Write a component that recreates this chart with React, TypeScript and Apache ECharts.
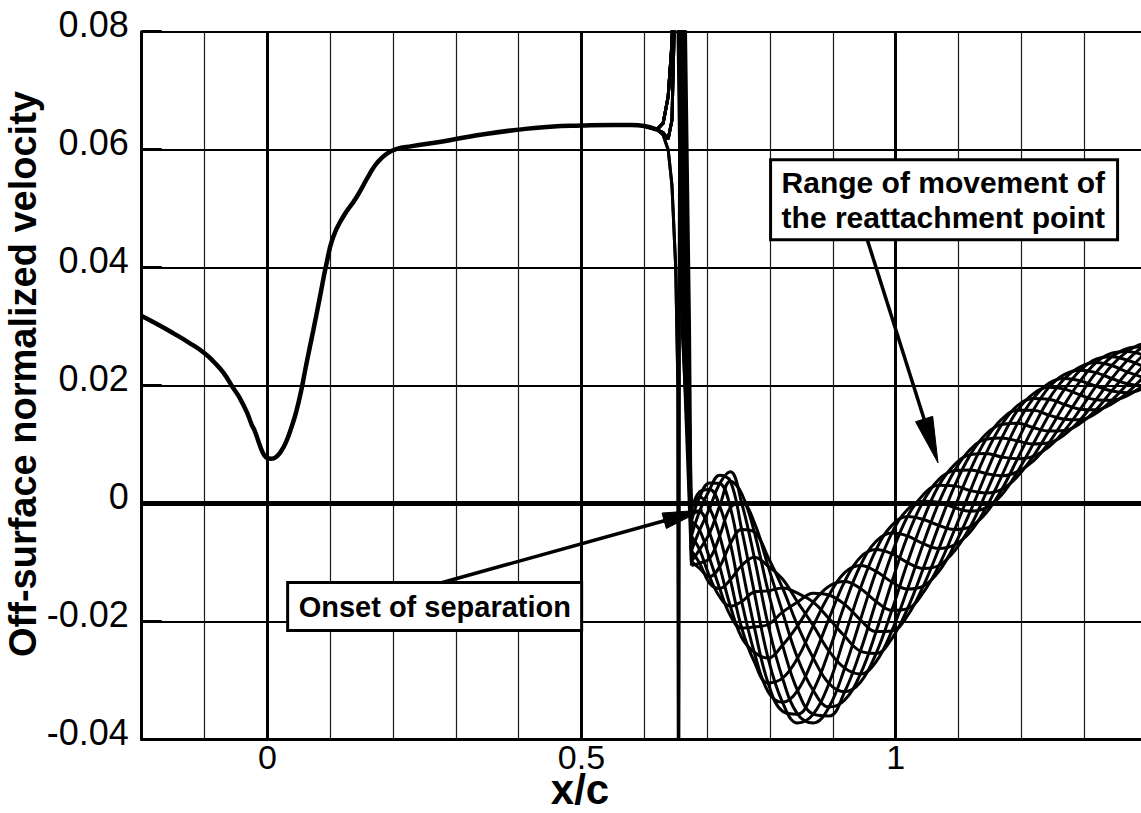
import React, { useEffect, useRef } from "react";
import * as echarts from "echarts";

// ---------- axis ticks ----------
const xLabelValues = [0, 0.5, 1];

// ---------- upstream curve (all phases coincide) ----------
const mainX = [-0.2, -0.175, -0.15, -0.125, -0.1, -0.085, -0.07, -0.055, -0.044, -0.033, -0.025, -0.02, -0.01, -0.005, 0.0, 0.006, 0.014, 0.022, 0.03, 0.038, 0.046, 0.054, 0.062, 0.073, 0.084, 0.094, 0.1045, 0.12, 0.1417, 0.163, 0.175, 0.19, 0.205, 0.23, 0.274, 0.3, 0.35, 0.4, 0.45, 0.5, 0.55, 0.58, 0.6, 0.62];
const mainY = [0.0318, 0.0304, 0.0289, 0.0273, 0.0255, 0.0240, 0.0222, 0.0197, 0.0179, 0.0156, 0.0134, 0.0123, 0.0093, 0.0082, 0.0077, 0.0076, 0.0079, 0.0089, 0.0105, 0.0128, 0.0156, 0.0192, 0.0236, 0.0293, 0.0352, 0.0406, 0.0451, 0.0485, 0.0519, 0.0559, 0.0578, 0.0593, 0.0601, 0.0606, 0.0613, 0.0618, 0.0627, 0.0634, 0.0639, 0.0641, 0.0642, 0.0642, 0.0640, 0.0634];

// ---------- approach to the shock spike ----------
const approachUp = [[0.600, 0.0640], [0.620, 0.0634], [0.630, 0.0645], [0.638, 0.0690], [0.644, 0.0780], [0.648, 0.0950], [0.651, 0.1200]];
const approachFlat = [[0.600, 0.0640], [0.620, 0.0634], [0.630, 0.0629], [0.638, 0.0618], [0.644, 0.0650], [0.6475, 0.0800], [0.651, 0.1200]];
const approachDip = [[0.600, 0.0640], [0.620, 0.0634], [0.630, 0.0625], [0.638, 0.0600], [0.644, 0.0540], [0.650, 0.0400], [0.6535, 0.0200], [0.6545, -0.0600], [0.6555, 0.0200], [0.657, 0.1200]];
const approachKind = ["up", "flat", "up", "dip", "flat", "up", "dip", "up", "flat", "up", "flat", "up"];
const spikeTopX = [0.653, 0.655, 0.657, 0.659, 0.661, 0.665, 0.663, 0.654, 0.656, 0.658, 0.660, 0.662];
const spikeMidX = [0.660, 0.662, 0.664, 0.666, 0.668, 0.672, 0.670, 0.661, 0.663, 0.665, 0.667, 0.669];

// ---------- separated region, one curve per phase ----------
const familyX = [0.675, 0.688, 0.704, 0.720, 0.737, 0.755, 0.775, 0.797, 0.820, 0.844, 0.869, 0.894, 0.919, 0.944, 0.969, 0.994, 1.019, 1.044, 1.069, 1.094, 1.119, 1.144, 1.169, 1.194, 1.219, 1.244, 1.269, 1.294, 1.319, 1.344, 1.369, 1.394, 1.419];
const phase0 = [-0.0005, 0.0011, -0.0008, -0.0055, -0.0129, -0.0211, -0.0268, -0.0304, -0.0296, -0.0262, -0.0207, -0.0155, -0.0117, -0.0105, -0.0115, -0.0133, -0.0145, -0.0140, -0.0115, -0.0070, -0.0013, 0.0051, 0.0111, 0.0158, 0.0186, 0.0197, 0.0194, 0.0184, 0.0176, 0.0175, 0.0183, 0.0200, 0.0223];
const phase1 = [-0.0012, -0.0013, -0.0050, -0.0107, -0.0174, -0.0227, -0.0252, -0.0262, -0.0240, -0.0207, -0.0167, -0.0140, -0.0132, -0.0144, -0.0166, -0.0181, -0.0178, -0.0151, -0.0105, -0.0044, 0.0022, 0.0085, 0.0134, 0.0166, 0.0178, 0.0177, 0.0168, 0.0160, 0.0159, 0.0169, 0.0188, 0.0214, 0.0241];
const phase2 = [-0.0030, -0.0045, -0.0093, -0.0144, -0.0190, -0.0211, -0.0209, -0.0205, -0.0184, -0.0167, -0.0152, -0.0155, -0.0171, -0.0197, -0.0217, -0.0216, -0.0190, -0.0140, -0.0076, -0.0007, 0.0057, 0.0109, 0.0143, 0.0158, 0.0158, 0.0150, 0.0143, 0.0142, 0.0153, 0.0175, 0.0203, 0.0233, 0.0260];
const phase3 = [-0.0055, -0.0078, -0.0124, -0.0158, -0.0174, -0.0166, -0.0150, -0.0148, -0.0143, -0.0152, -0.0167, -0.0195, -0.0225, -0.0250, -0.0254, -0.0229, -0.0178, -0.0110, -0.0037, 0.0030, 0.0083, 0.0118, 0.0134, 0.0136, 0.0129, 0.0123, 0.0124, 0.0136, 0.0159, 0.0191, 0.0223, 0.0252, 0.0273];
const phase4 = [-0.0080, -0.0101, -0.0135, -0.0144, -0.0129, -0.0105, -0.0091, -0.0106, -0.0128, -0.0167, -0.0207, -0.0250, -0.0279, -0.0289, -0.0268, -0.0216, -0.0145, -0.0068, 0.0002, 0.0056, 0.0092, 0.0109, 0.0111, 0.0106, 0.0101, 0.0103, 0.0117, 0.0142, 0.0176, 0.0212, 0.0243, 0.0266, 0.0278];
const phase5 = [-0.0098, -0.0110, -0.0124, -0.0107, -0.0068, -0.0044, -0.0048, -0.0091, -0.0143, -0.0207, -0.0262, -0.0305, -0.0319, -0.0303, -0.0254, -0.0181, -0.0100, -0.0027, 0.0031, 0.0066, 0.0083, 0.0085, 0.0079, 0.0076, 0.0080, 0.0096, 0.0124, 0.0160, 0.0199, 0.0234, 0.0258, 0.0271, 0.0273];
const phase6 = [-0.0105, -0.0101, -0.0093, -0.0055, -0.0007, 0.0001, -0.0032, -0.0106, -0.0184, -0.0262, -0.0317, -0.0345, -0.0333, -0.0289, -0.0217, -0.0133, -0.0055, 0.0004, 0.0041, 0.0056, 0.0057, 0.0051, 0.0047, 0.0054, 0.0072, 0.0103, 0.0143, 0.0184, 0.0222, 0.0249, 0.0263, 0.0266, 0.0260];
const phase7 = [-0.0098, -0.0078, -0.0050, -0.0004, 0.0038, 0.0017, -0.0048, -0.0148, -0.0240, -0.0317, -0.0357, -0.0360, -0.0319, -0.0250, -0.0166, -0.0085, -0.0022, 0.0015, 0.0031, 0.0030, 0.0022, 0.0018, 0.0024, 0.0046, 0.0080, 0.0123, 0.0168, 0.0208, 0.0239, 0.0255, 0.0258, 0.0252, 0.0241];
const phase8 = [-0.0080, -0.0045, -0.0008, 0.0034, 0.0054, 0.0001, -0.0091, -0.0205, -0.0296, -0.0357, -0.0372, -0.0345, -0.0279, -0.0197, -0.0115, -0.0050, -0.0010, 0.0004, 0.0002, -0.0007, -0.0013, -0.0007, 0.0015, 0.0054, 0.0101, 0.0150, 0.0194, 0.0226, 0.0245, 0.0249, 0.0243, 0.0233, 0.0223];
const phase9 = [-0.0055, -0.0013, 0.0024, 0.0048, 0.0038, -0.0044, -0.0150, -0.0262, -0.0337, -0.0372, -0.0357, -0.0305, -0.0225, -0.0144, -0.0078, -0.0037, -0.0022, -0.0027, -0.0037, -0.0044, -0.0039, -0.0016, 0.0024, 0.0076, 0.0129, 0.0177, 0.0212, 0.0232, 0.0239, 0.0234, 0.0223, 0.0214, 0.0209];
const phase10 = [-0.0030, 0.0011, 0.0035, 0.0034, -0.0007, -0.0105, -0.0209, -0.0304, -0.0352, -0.0357, -0.0317, -0.0250, -0.0171, -0.0105, -0.0064, -0.0050, -0.0055, -0.0068, -0.0076, -0.0070, -0.0048, -0.0007, 0.0047, 0.0106, 0.0158, 0.0197, 0.0219, 0.0226, 0.0222, 0.0212, 0.0203, 0.0200, 0.0204];
const phase11 = [-0.0012, 0.0020, 0.0024, -0.0004, -0.0068, -0.0166, -0.0252, -0.0319, -0.0337, -0.0317, -0.0262, -0.0195, -0.0132, -0.0091, -0.0078, -0.0085, -0.0100, -0.0110, -0.0105, -0.0080, -0.0039, 0.0018, 0.0079, 0.0136, 0.0178, 0.0204, 0.0212, 0.0208, 0.0199, 0.0191, 0.0188, 0.0195, 0.0209];
const phases = [phase0, phase1, phase2, phase3, phase4, phase5, phase6, phase7, phase8, phase9, phase10, phase11];

// ---------- titles and annotations ----------
const yTitle = "Off-surface normalized velocity";
const xTitle = "x/c";
const reattachText = "Range of movement of\nthe reattachment point";
const reattachBoxAt = [0.801, 0.0583];
const reattachArrow = [[0.9550, 0.0447], [1.0675, 0.0069]];
const onsetText = "Onset of separation";
const onsetBoxAt = [0.0323, -0.0134];
const onsetArrow = [[0.2744, -0.0135], [0.6930, -0.0011]];

const FONT = '"Liberation Sans", Arial, Helvetica, sans-serif';

export default function App() {
  const ref = useRef<HTMLDivElement>(null);

  useEffect(() => {
    const el = ref.current;
    if (!el) return;
    const chart = echarts.init(el, null, { renderer: "svg" });

    const black = "#000";
    const curveStyle = { color: black, width: 3 };
    const series: any[] = [];

    series.push({
      type: "line",
      name: "upstream",
      data: mainX.map((x, i) => [x, mainY[i]]),
      smooth: 0.5,
      showSymbol: false,
      symbol: "none",
      clip: true,
      silent: true,
      z: 3,
      lineStyle: { color: black, width: 4.5 },
      markLine: {
        silent: true,
        symbol: ["none", "none"],
        label: { show: false },
        lineStyle: { color: black, type: "solid" },
        data: [
          { yAxis: 0, lineStyle: { width: 5, color: black, type: "solid" } },
          ...xLabelValues.map((v) => ({ xAxis: v, lineStyle: { width: 3, color: black, type: "solid" } })),
        ],
      },
    });

    phases.forEach((ph, k) => {
      const kind = approachKind[k];
      const approach = kind === "dip" ? approachDip : kind === "flat" ? approachFlat : approachUp;
      const pre = [...approach, [spikeTopX[k], 0.085], [spikeMidX[k], 0.03], [familyX[0], ph[0]]];
      series.push({
        type: "line",
        name: "spike " + k,
        data: pre,
        smooth: false,
        showSymbol: false,
        symbol: "none",
        clip: true,
        silent: true,
        z: 3,
        lineStyle: curveStyle,
      });
      series.push({
        type: "line",
        name: "phase " + k,
        data: familyX.map((x, i) => [x, ph[i]]),
        smooth: 0.4,
        showSymbol: false,
        symbol: "none",
        clip: true,
        silent: true,
        z: 3,
        lineStyle: curveStyle,
      });
    });

    const isMajor = (v: number) => xLabelValues.some((m) => Math.abs(m - v) < 1e-6);

    chart.setOption({
      animation: false,
      backgroundColor: "#fff",
      grid: { left: 141.7, top: 31.7, right: -5.9, bottom: 73.5, containLabel: false, outerBoundsMode: "none" },
      xAxis: {
        type: "value",
        min: -0.2,
        max: 1.4,
        interval: 0.1,
        axisLine: { show: true, onZero: false, lineStyle: { color: black, width: 3 } },
        axisTick: { show: false },
        splitLine: { show: true, lineStyle: { color: "#1a1a1a", width: 1.2 } },
        axisLabel: {
          color: black,
          fontFamily: FONT,
          fontSize: 34,
          lineHeight: 26,
          margin: 4,
          formatter: (v: number) => (isMajor(v) ? String(Math.round(v * 10) / 10) : ""),
        },
      },
      yAxis: {
        type: "value",
        min: -0.04,
        max: 0.08,
        interval: 0.02,
        axisLine: { show: true, onZero: false, lineStyle: { color: black, width: 3 } },
        axisTick: { show: true, inside: true, length: 20, lineStyle: { color: black, width: 3 } },
        splitLine: { show: true, lineStyle: { color: black, width: 2 } },
        axisLabel: {
          color: black,
          fontFamily: FONT,
          fontSize: 36,
          lineHeight: 14,
          verticalAlign: "bottom",
          margin: 13,
          formatter: (v: number) => (Math.abs(v) < 1e-9 ? "0" : v.toFixed(2)),
        },
      },
      series,
    });

    const px = (p: number[]) => chart.convertToPixel({ gridIndex: 0 } as any, p) as number[];

    const arrow = (pts: number[][], headLen: number, headHalf: number) => {
      const a = px(pts[0]);
      const b = px(pts[1]);
      const dx = b[0] - a[0];
      const dy = b[1] - a[1];
      const L = Math.hypot(dx, dy);
      const ux = dx / L;
      const uy = dy / L;
      const bx = b[0] - ux * headLen;
      const by = b[1] - uy * headLen;
      return [
        { type: "line", z: 100, shape: { x1: a[0], y1: a[1], x2: bx + ux * 2, y2: by + uy * 2 }, style: { stroke: black, lineWidth: 3.5 } },
        {
          type: "polygon",
          z: 100,
          shape: { points: [[b[0], b[1]], [bx - uy * headHalf, by + ux * headHalf], [bx + uy * headHalf, by - ux * headHalf]] },
          style: { fill: black, stroke: black, lineWidth: 1 },
        },
      ];
    };

    const box = (at: number[], w: number, h: number, text: string, padX: number, padY: number, size: number) => {
      const p = px(at);
      return [
        { type: "rect", z: 100, shape: { x: p[0], y: p[1], width: w, height: h }, style: { fill: "#fff", stroke: black, lineWidth: 3 } },
        {
          type: "text",
          z: 101,
          x: p[0] + padX,
          y: p[1] + padY,
          style: { text, fill: black, font: `bold ${size}px ${FONT}`, lineHeight: 35, verticalAlign: "top", align: "left" },
        },
      ];
    };

    chart.setOption({
      graphic: [
        ...arrow(reattachArrow, 46, 9),
        ...arrow(onsetArrow, 40, 8),
        ...box(reattachBoxAt, 347, 80, reattachText, 11, 5, 30),
        ...box(onsetBoxAt, 294, 48, onsetText, 11, 7, 29),
        {
          type: "text",
          z: 100,
          x: 23,
          y: 374,
          rotation: Math.PI / 2,
          style: { text: yTitle, fill: black, font: `bold 38px ${FONT}`, align: "center", verticalAlign: "middle" },
        },
        {
          type: "text",
          z: 100,
          x: 580,
          y: 813,
          style: { text: xTitle, fill: black, font: `bold 42px ${FONT}`, lineHeight: 47, align: "center", verticalAlign: "bottom" },
        },
      ],
    });

    return () => {
      chart.dispose();
    };
  }, []);

  return (
    <div
      ref={ref}
      style={{ position: "fixed", left: 0, top: 0, width: 1141, height: 813, background: "#fff" }}
    />
  );
}
